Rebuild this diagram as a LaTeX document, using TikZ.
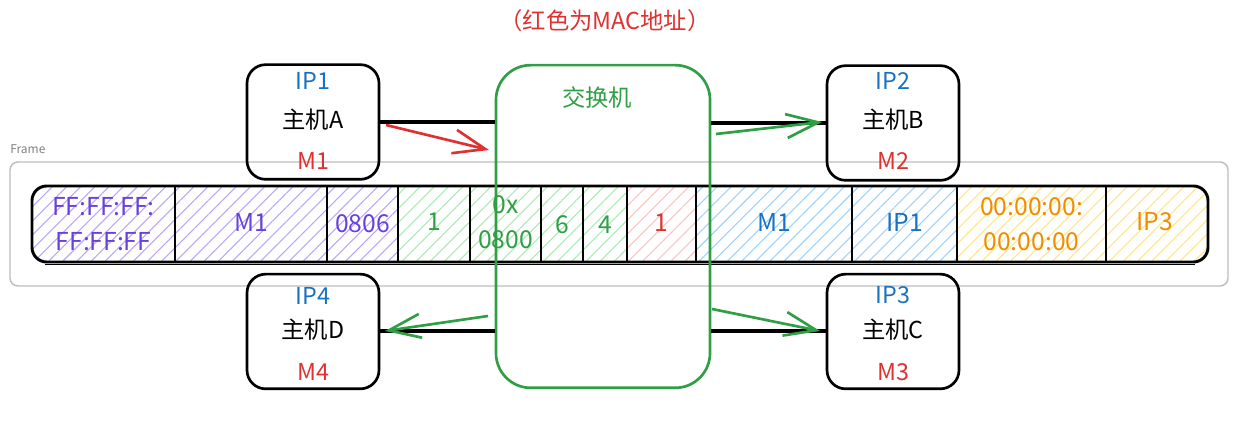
\documentclass[tikz,border=0pt]{standalone}
\usepackage{fontspec}
\setmainfont{Noto Sans CJK SC}
\usetikzlibrary{patterns.meta,arrows.meta}
\definecolor{cpurple}{HTML}{6741D9}
\definecolor{cgreen}{HTML}{2F9E44}
\definecolor{cred}{HTML}{E03131}
\definecolor{cblue}{HTML}{1971C2}
\definecolor{corange}{HTML}{F08C00}
\definecolor{hpurple}{HTML}{B9A6FC}
\definecolor{hgreen}{HTML}{A9EBB3}
\definecolor{hred}{HTML}{FFC2C2}
\definecolor{hblue}{HTML}{9DD2FA}
\definecolor{hyellow}{HTML}{FFE58A}
\definecolor{framegray}{HTML}{BDBDBD}
\tikzset{
  hostbox/.style={draw=black, line width=2pt, rounded corners=14pt, minimum width=99pt, minimum height=86pt},
  switchbox/.style={draw=cgreen, line width=2pt, rounded corners=26pt, minimum width=160.5pt, minimum height=242pt},
  iptext/.style={text=cblue, font=\fontsize{17.5}{18}\selectfont},
  hosttext/.style={text=black, font=\fontsize{17.5}{18}\selectfont},
  mactext/.style={text=cred, font=\fontsize{17.5}{18}\selectfont},
  celltext/.style={font=\fontsize{18.5}{26}\selectfont, align=center, inner sep=0pt},
  conn/.style={draw=black, line width=3pt},
  sarrow/.style={line width=2pt, -{Straight Barb[length=24pt,width=18pt]}},
  hatch/.style={pattern={Lines[angle=45,distance=7.5pt,line width=0.8pt]}, pattern color=#1},
  divider/.style={draw=black, line width=2pt},
}
\begin{document}
\begin{tikzpicture}[x=0.75pt,y=-0.75pt]
\useasboundingbox (0,0) rectangle (1253,423);
% title
\node[text=cred, font=\fontsize{17.5}{18}\selectfont] (title) at (605,21) {（红色为MAC地址）};
% frame
\node[anchor=west, text=gray, font=\fontsize{9}{10}\selectfont, inner sep=0pt] (framelabel) at (10,149) {Frame};
\draw[framegray, line width=1.1pt, rounded corners=6pt] (10,162) rectangle (1228,286);
% bar cells
\begin{scope}
\clip[rounded corners=11pt] (32,186) rectangle (1208,262);
\fill[hatch=hpurple] (32,186) rectangle (398,262);
\fill[hatch=hgreen] (398,186) rectangle (627,262);
\fill[hatch=hred] (627,186) rectangle (696,262);
\fill[hatch=hblue] (696,186) rectangle (957,262);
\fill[hatch=hyellow] (957,186) rectangle (1208,262);
\end{scope}
\draw[black, line width=2.2pt, rounded corners=11pt] (32,186) rectangle (1208,262);
\draw[black, line width=0.9pt] (45,264.5) -- (1195,264.5);
\foreach \x in {175,327,398,470,541,583,627,696,852,957,1106}
  \draw[divider] (\x,186) -- (\x,262);
\node[celltext, text=cpurple] (c1) at (103.5,224) {FF:FF:FF:\\FF:FF:FF};
\node[celltext, text=cpurple] (c2) at (251,222) {M1};
\node[celltext, text=cpurple] (c3) at (362.5,224) {0806};
\node[celltext, text=cgreen] (c4) at (434,222) {1};
\node[celltext, text=cgreen] (c5) at (505.5,222) {0x\\0800};
\node[celltext, text=cgreen] (c6) at (562,225) {6};
\node[celltext, text=cgreen] (c7) at (605,225) {4};
\node[celltext, text=cred] (c8) at (661.5,223) {1};
\node[celltext, text=cblue] (c9) at (774,222) {M1};
\node[celltext, text=cblue] (c10) at (904.5,222) {IP1};
\node[celltext, text=corange] (c11) at (1031.5,224) {00:00:00:\\00:00:00};
\node[celltext, text=corange] (c12) at (1155,222) {IP3};
% switch
\node[switchbox] (sw) at (603,226.5) {};
\node[text=cgreen, font=\fontsize{17.5}{18}\selectfont] (swlabel) at (597,98) {交换机};
% hosts
\node[hostbox] (hA) at (313,122) {};
\node[iptext] (ipA) at (313,81) {IP1};
\node[hosttext] (nA) at (313,120) {主机A};
\node[mactext] (mA) at (313,161) {M1};

\node[hostbox] (hB) at (893,123) {};
\node[iptext] (ipB) at (893,81) {IP2};
\node[hosttext] (nB) at (893,120) {主机B};
\node[mactext] (mB) at (893,161) {M2};

\node[hostbox] (hC) at (893,331.5) {};
\node[iptext] (ipC) at (893,295) {IP3};
\node[hosttext] (nC) at (893,330) {主机C};
\node[mactext] (mC) at (893,372) {M3};

\node[hostbox] (hD) at (313,331.5) {};
\node[iptext] (ipD) at (313,296) {IP4};
\node[hosttext] (nD) at (313,330) {主机D};
\node[mactext] (mD) at (313,372) {M4};
% connectors
\draw[conn] (hA.east) -- (hA.east -| sw.west);
\draw[conn] (hB.west) -- (hB.west -| sw.east);
\draw[conn] (hC.west) -- (hC.west -| sw.east);
\draw[conn] (hD.east) -- (hD.east -| sw.west);
% arrows
\coordinate (ra1) at (386,125);
\coordinate (ra2) at (489,150);
\coordinate (ba1) at (716,134);
\coordinate (ba2) at (822,122);
\coordinate (ca1) at (712,309);
\coordinate (ca2) at (820,331);
\coordinate (da1) at (488,316);
\coordinate (da2) at (385,331);
\draw[sarrow, cred] (ra1) -- (ra2);
\draw[sarrow, cgreen] (ba1) -- (ba2);
\draw[sarrow, cgreen] (ca1) -- (ca2);
\draw[sarrow, cgreen] (da1) -- (da2);
\end{tikzpicture}
\end{document}
